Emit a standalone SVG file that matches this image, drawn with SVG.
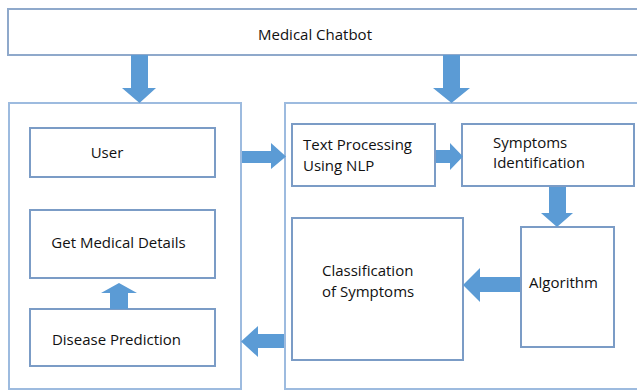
<svg xmlns="http://www.w3.org/2000/svg" width="637" height="390" viewBox="0 0 637 390">
<style>
.cont{fill:#fff;stroke:#9dbbdf;stroke-width:2}
.box{fill:#fff;stroke:#7b9cc6;stroke-width:2}
.top{fill:#fff;stroke:#8fa9cb;stroke-width:2}
.arr{fill:#5b9bd5}
text{font-family:"Open Sans","Liberation Sans",sans-serif;font-size:15px;fill:#111}
</style>
<rect width="637" height="390" fill="#fff"/>
<g id="medical-chatbot"><rect class="top" x="8" y="9" width="640" height="46"/><text x="315" y="40" text-anchor="middle">Medical Chatbot</text></g>
<g id="left-container"><rect class="cont" x="9" y="103" width="232" height="286"/></g>
<g id="right-container"><rect class="cont" x="285" y="103" width="360" height="286"/></g>
<g id="user"><rect class="box" x="30" y="128" width="185" height="49"/><text x="107" y="158" text-anchor="middle">User</text></g>
<g id="get-medical-details"><rect class="box" x="30" y="210" width="185" height="68"/><text x="118.5" y="248" text-anchor="middle">Get Medical Details</text></g>
<g id="disease-prediction"><rect class="box" x="30" y="309" width="185" height="57"/><text x="116.5" y="345" text-anchor="middle">Disease Prediction</text></g>
<g id="text-processing"><rect class="box" x="292" y="124" width="143" height="62"/><text x="303" y="150">Text Processing</text><text x="303" y="171">Using NLP</text></g>
<g id="symptoms-identification"><rect class="box" x="462" y="124" width="172" height="62"/><text x="493" y="148">Symptoms</text><text x="493" y="168">Identification</text></g>
<g id="algorithm"><rect class="box" x="521" y="227" width="93" height="120"/><text x="563.5" y="288" text-anchor="middle">Algorithm</text></g>
<g id="classification"><rect class="box" x="292" y="218" width="171" height="142"/><text x="322" y="276">Classification</text><text x="322" y="297">of Symptoms</text></g>
<g id="connectors">
<polygon class="arr" points="131,55 148,55 148,88 156,88 139.5,103 122,88 131,88"/>
<polygon class="arr" points="443,55 460,55 460,88 470,88 451.5,103 433,88 443,88"/>
<polygon class="arr" points="242,151 271,151 271,143 286,156.5 271,169 271,163 242,163"/>
<polygon class="arr" points="436,150 450,150 450,143 463,156.5 450,170 450,163 436,163"/>
<polygon class="arr" points="549,187 566,187 566,213 573,213 557,227 541,213 549,213"/>
<polygon class="arr" points="520,277 480,277 480,268 463,285 480,302 480,292 520,292"/>
<polygon class="arr" points="284,334 258,334 258,326 241,341.5 258,357 258,348 284,348"/>
<polygon class="arr" points="110,309 110,293 101,293 119,283 137,293 128,293 128,309"/>
</g>
</svg>
